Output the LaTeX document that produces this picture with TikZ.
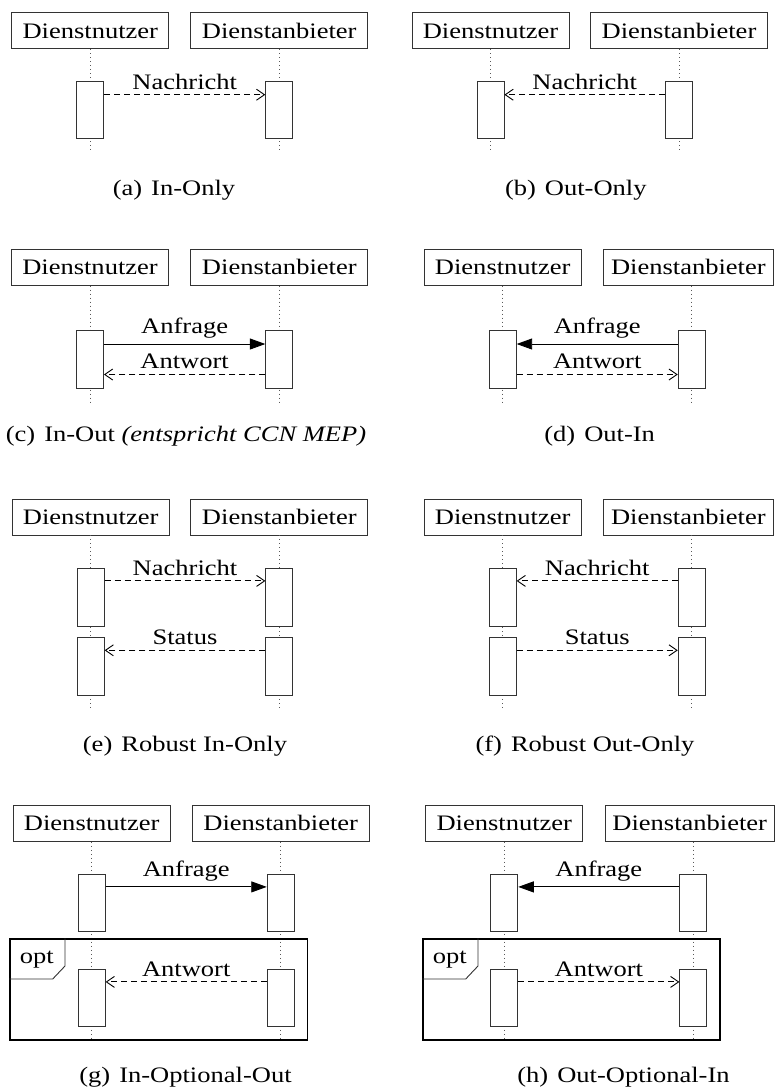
\documentclass[tikz,border=0pt]{standalone}
\usepackage{fontspec}
\setmainfont[FakeStretch=1.2]{Liberation Serif}
\usetikzlibrary{arrows.meta}
\begin{document}
\begin{tikzpicture}[x=1pt,y=-1pt,
  font=\fontsize{22.1}{26}\selectfont,
  participant/.style={draw=black!80, line width=0.9pt, minimum height=36pt, inner xsep=2pt, inner ysep=0pt},
  user/.style={participant, minimum width=157pt},
  provider/.style={participant, minimum width=177pt},
  activation/.style={draw=black!80, fill=white, line width=0.9pt, minimum width=27pt, minimum height=57.7pt, inner sep=0pt},
  lifeline/.style={draw=black!65, line width=0.7pt, dash pattern=on 0.7pt off 3.3pt},
  async/.style={line width=0.9pt, dash pattern=on 6pt off 4pt, -{Straight Barb[length=8pt,width=11pt,line width=0.9pt]}},
  sync/.style={line width=0.9pt, -{Triangle[length=15.5pt,width=11pt]}},
  msglabel/.style={above, inner sep=2pt, yshift=3pt},
  caption/.style={anchor=base, inner sep=0pt},
  optframe/.style={draw, line width=1.3pt, inner sep=0pt, anchor=north west, minimum height=101pt},
  opttab/.style={draw=black!80, line width=0.9pt},
]
\useasboundingbox (0,0) rectangle (775,1088);

% ---------- (a) In-Only ----------
\node[user] (aU) at (90.3,30.9) {Dienstnutzer};
\node[provider] (aP) at (279.2,30.9) {Dienstanbieter};
\coordinate (aUend) at (90.3,153);
\coordinate (aPend) at (279.2,153);
\draw[lifeline] (aU.south) -- (aUend);
\draw[lifeline] (aP.south) -- (aPend);
\node[activation] (aU1) at (90.3,110) {};
\node[activation] (aP1) at (279.2,110) {};
\draw[async] ([yshift=-14pt]aU1.north east) -- node[msglabel] (aM1) {Nachricht} ([yshift=-14pt]aP1.north west);
\node[caption] (aCap) at (174,195) {(a)\hspace{9pt}In-Only};

% ---------- (b) Out-Only ----------
\node[user] (bU) at (490.5,30.9) {Dienstnutzer};
\node[provider] (bP) at (679,30.9) {Dienstanbieter};
\coordinate (bUend) at (490.5,153);
\coordinate (bPend) at (679,153);
\draw[lifeline] (bU.south) -- (bUend);
\draw[lifeline] (bP.south) -- (bPend);
\node[activation] (bU1) at (490.5,110) {};
\node[activation] (bP1) at (679,110) {};
\draw[async] ([yshift=-14pt]bP1.north west) -- node[msglabel] (bM1) {Nachricht} ([yshift=-14pt]bU1.north east);
\node[caption] (bCap) at (575.8,195) {(b)\hspace{9pt}Out-Only};

% ---------- (c) In-Out ----------
\node[user] (cU) at (90,267.2) {Dienstnutzer};
\node[provider] (cP) at (279.3,267.2) {Dienstanbieter};
\coordinate (cUend) at (90,402);
\coordinate (cPend) at (279.3,402);
\draw[lifeline] (cU.south) -- (cUend);
\draw[lifeline] (cP.south) -- (cPend);
\node[activation] (cU1) at (90,359.5) {};
\node[activation] (cP1) at (279.3,359.5) {};
\draw[sync] ([yshift=-13.8pt]cU1.north east) -- node[msglabel] (cM1) {Anfrage} ([yshift=-13.8pt]cP1.north west);
\draw[async] ([yshift=-44.3pt]cP1.north west) -- node[msglabel] (cM2) {Antwort} ([yshift=-44.3pt]cU1.north east);
\node[caption] (cCap) at (186,441.7) {(c)\hspace{9pt}In-Out \textit{(entspricht CCN MEP)}};

% ---------- (d) Out-In ----------
\node[user] (dU) at (502.7,267.2) {Dienstnutzer};
\node[participant, minimum width=169.2pt, anchor=west] (dP) at (603.3,267.2) {Dienstanbieter};
\coordinate (dUend) at (502.7,402);
\coordinate (dPend) at (691.7,402);
\draw[lifeline] (dU.south) -- (dUend);
\draw[lifeline] (dP.south -| dPend) -- (dPend);
\node[activation] (dU1) at (502.7,359.5) {};
\node[activation] (dP1) at (691.7,359.5) {};
\draw[sync] ([yshift=-13.8pt]dP1.north west) -- node[msglabel] (dM1) {Anfrage} ([yshift=-13.8pt]dU1.north east);
\draw[async] ([yshift=-44.3pt]dU1.north east) -- node[msglabel] (dM2) {Antwort} ([yshift=-44.3pt]dP1.north west);
\node[caption] (dCap) at (599.7,441.7) {(d)\hspace{9pt}Out-In};

% ---------- (e) Robust In-Only ----------
\node[user] (eU) at (90.7,517) {Dienstnutzer};
\node[provider] (eP) at (279.3,517) {Dienstanbieter};
\coordinate (eUend) at (90.7,710);
\coordinate (ePend) at (279.3,710);
\draw[lifeline] (eU.south) -- (eUend);
\draw[lifeline] (eP.south) -- (ePend);
\node[activation] (eU1) at (90.7,597.2) {};
\node[activation] (eP1) at (279.3,597.2) {};
\node[activation] (eU2) at (90.7,666.2) {};
\node[activation] (eP2) at (279.3,666.2) {};
\draw[async] ([yshift=-13pt]eU1.north east) -- node[msglabel] (eM1) {Nachricht} ([yshift=-13pt]eP1.north west);
\draw[async] ([yshift=-13.4pt]eP2.north west) -- node[msglabel] (eM2) {Status} ([yshift=-13.4pt]eU2.north east);
\node[caption] (eCap) at (185,751) {(e)\hspace{9pt}Robust In-Only};

% ---------- (f) Robust Out-Only ----------
\node[user] (fU) at (502.7,517) {Dienstnutzer};
\node[participant, minimum width=169.2pt, anchor=west] (fP) at (603.3,517) {Dienstanbieter};
\coordinate (fUend) at (502.7,710);
\coordinate (fPend) at (691.7,710);
\draw[lifeline] (fU.south) -- (fUend);
\draw[lifeline] (fP.south -| fPend) -- (fPend);
\node[activation] (fU1) at (502.7,597.2) {};
\node[activation] (fP1) at (691.7,597.2) {};
\node[activation] (fU2) at (502.7,666.2) {};
\node[activation] (fP2) at (691.7,666.2) {};
\draw[async] ([yshift=-13pt]fP1.north west) -- node[msglabel] (fM1) {Nachricht} ([yshift=-13pt]fU1.north east);
\draw[async] ([yshift=-13.4pt]fU2.north east) -- node[msglabel] (fM2) {Status} ([yshift=-13.4pt]fP2.north west);
\node[caption] (fCap) at (585,751) {(f)\hspace{9pt}Robust Out-Only};

% ---------- (g) In-Optional-Out ----------
\node[user] (gU) at (91.7,823.3) {Dienstnutzer};
\node[provider] (gP) at (280.7,823.3) {Dienstanbieter};
\coordinate (gUend) at (91.7,1040);
\coordinate (gPend) at (280.7,1040);
\draw[lifeline] (gU.south) -- (gUend);
\draw[lifeline] (gP.south) -- (gPend);
\node[optframe, minimum width=297.4pt] (gOpt) at (9.3,938.3) {};
\draw[opttab] ([yshift=-40.7pt]gOpt.north west) -- ++(43.4,0) -- ++(12.3,-13) -- ([xshift=55.7pt]gOpt.north west);
\node[caption] (gOptLabel) at (36.7,963.3) {opt};
\node[activation] (gU1) at (91.7,902.9) {};
\node[activation] (gP1) at (280.7,902.9) {};
\node[activation] (gU2) at (91.7,997.9) {};
\node[activation] (gP2) at (280.7,997.9) {};
\draw[sync] ([yshift=-13.3pt]gU1.north east) -- node[msglabel] (gM1) {Anfrage} ([yshift=-13.3pt]gP1.north west);
\draw[async] ([yshift=-13.3pt]gP2.north west) -- node[msglabel] (gM2) {Antwort} ([yshift=-13.3pt]gU2.north east);
\node[caption] (gCap) at (185.5,1082) {(g)\hspace{9pt}In-Optional-Out};

% ---------- (h) Out-Optional-In ----------
\node[user] (hU) at (504.3,823.3) {Dienstnutzer};
\node[participant, minimum width=168.5pt, anchor=west] (hP) at (605,823.3) {Dienstanbieter};
\coordinate (hUend) at (504.3,1040);
\coordinate (hPend) at (693.3,1040);
\draw[lifeline] (hU.south) -- (hUend);
\draw[lifeline] (hP.south -| hPend) -- (hPend);
\node[optframe, minimum width=297pt] (hOpt) at (422.3,938.3) {};
\draw[opttab] ([yshift=-40.7pt]hOpt.north west) -- ++(43.4,0) -- ++(12.3,-13) -- ([xshift=55.7pt]hOpt.north west);
\node[caption] (hOptLabel) at (449.7,963.3) {opt};
\node[activation] (hU1) at (504.3,902.9) {};
\node[activation] (hP1) at (693.3,902.9) {};
\node[activation] (hU2) at (504.3,997.9) {};
\node[activation] (hP2) at (693.3,997.9) {};
\draw[sync] ([yshift=-13.3pt]hP1.north west) -- node[msglabel] (hM1) {Anfrage} ([yshift=-13.3pt]hU1.north east);
\draw[async] ([yshift=-13.3pt]hU2.north east) -- node[msglabel] (hM2) {Antwort} ([yshift=-13.3pt]hP2.north west);
\node[caption] (hCap) at (623.5,1082) {(h)\hspace{9pt}Out-Optional-In};
\end{tikzpicture}
\end{document}
